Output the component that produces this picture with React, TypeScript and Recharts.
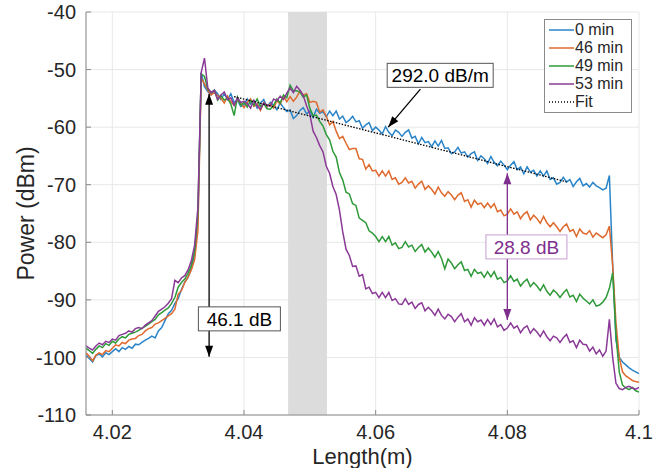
import {
  LineChart,
  Line,
  XAxis,
  YAxis,
  CartesianGrid,
  ReferenceArea,
  ReferenceLine,
  ReferenceDot,
  Legend,
  Label,
} from 'recharts'

// sample positions along the fibre (m)
const LENGTH_M = [
  4.016, 4.0165, 4.017, 4.0175, 4.018, 4.0185, 4.019, 4.0195,
  4.02, 4.0205, 4.021, 4.0215, 4.022, 4.0225, 4.023, 4.0235,
  4.024, 4.0245, 4.025, 4.0255, 4.026, 4.0265, 4.027, 4.0275,
  4.028, 4.0285, 4.029, 4.0295, 4.03, 4.0305, 4.031, 4.0315,
  4.032, 4.0325, 4.033, 4.0335, 4.034, 4.0345, 4.035, 4.0355,
  4.036, 4.0365, 4.037, 4.0375, 4.038, 4.0385, 4.039, 4.0395,
  4.04, 4.0405, 4.041, 4.0415, 4.042, 4.0425, 4.043, 4.0435,
  4.044, 4.0445, 4.045, 4.0455, 4.046, 4.0465, 4.047, 4.0475,
  4.048, 4.0485, 4.049, 4.0495, 4.05, 4.0505, 4.051, 4.0515,
  4.052, 4.0525, 4.053, 4.0535, 4.054, 4.0545, 4.055, 4.0555,
  4.056, 4.0565, 4.057, 4.0575, 4.058, 4.0585, 4.059, 4.0595,
  4.06, 4.0605, 4.061, 4.0615, 4.062, 4.0625, 4.063, 4.0635,
  4.064, 4.0645, 4.065, 4.0655, 4.066, 4.0665, 4.067, 4.0675,
  4.068, 4.0685, 4.069, 4.0695, 4.07, 4.0705, 4.071, 4.0715,
  4.072, 4.0725, 4.073, 4.0735, 4.074, 4.0745, 4.075, 4.0755,
  4.076, 4.0765, 4.077, 4.0775, 4.078, 4.0785, 4.079, 4.0795,
  4.08, 4.0805, 4.081, 4.0815, 4.082, 4.0825, 4.083, 4.0835,
  4.084, 4.0845, 4.085, 4.0855, 4.086, 4.0865, 4.087, 4.0875,
  4.088, 4.0885, 4.089, 4.0895, 4.09, 4.0905, 4.091, 4.0915,
  4.092, 4.0925, 4.093, 4.0935, 4.094, 4.0945, 4.095, 4.0955,
  4.096, 4.0965, 4.097, 4.0975, 4.098, 4.0985, 4.099, 4.0995,
  4.1,
]

// power (dBm) after 0 min
const MIN_0 = [
  -99.6, -100.2, -100.8, -99.7, -99.4, -99.9, -99.2, -99.5,
  -99.0, -98.5, -99.0, -98.3, -98.6, -98.1, -98.4, -97.7,
  -97.8, -97.4, -97.0, -96.7, -96.3, -96.6, -95.4, -94.8,
  -93.6, -92.4, -91.8, -90.6, -89.8, -88.2, -86.9, -86.1,
  -84.6, -82.0, -76.0, -50.5, -53.0, -53.8, -54.4, -53.6,
  -54.2, -55.2, -54.2, -55.2, -54.2, -55.7, -55.3, -56.4,
  -56.1, -55.1, -56.0, -55.5, -56.7, -55.8, -55.2, -56.5,
  -55.7, -56.2, -57.0, -55.8, -56.6, -57.3, -57.0, -58.5,
  -58.0, -57.1, -56.6, -57.7, -57.2, -58.3, -56.9, -57.6,
  -57.3, -58.2, -57.2, -58.0, -57.2, -58.6, -58.1, -59.2,
  -58.8, -58.1, -59.1, -58.9, -60.2, -59.6, -59.2, -60.6,
  -60.0, -60.5, -61.2, -59.9, -60.9, -61.5, -60.5, -60.9,
  -61.6, -60.9, -60.5, -61.9, -61.6, -62.9, -61.8, -62.7,
  -62.5, -63.4, -62.4, -63.3, -62.3, -63.7, -63.6, -64.6,
  -64.3, -63.5, -64.5, -64.3, -65.2, -64.6, -64.3, -65.8,
  -65.0, -65.5, -66.3, -65.1, -66.1, -66.7, -65.9, -66.6,
  -67.4, -66.6, -66.0, -67.4, -66.9, -68.1, -66.9, -67.8,
  -67.5, -68.5, -67.6, -68.5, -67.6, -69.1, -68.8, -69.9,
  -69.6, -68.7, -69.5, -69.1, -70.3, -69.5, -68.9, -70.2,
  -69.8, -70.4, -69.6, -70.2, -70.5, -70.9, -70.6, -68.4,
  -84.0, -97.0, -100.0, -100.8, -101.3, -101.8, -102.2, -102.5,
  -102.8,
]

// 46 min
const MIN_46 = [
  -99.2, -99.8, -100.6, -99.6, -99.2, -99.5, -98.8, -99.0,
  -98.4, -97.8, -98.0, -97.4, -97.6, -97.0, -96.8, -96.7,
  -96.2, -96.0, -95.4, -95.0, -94.8, -94.2, -94.0, -93.6,
  -93.2, -92.8, -92.4, -91.6, -89.0, -88.4, -87.0, -86.0,
  -84.8, -83.0, -78.0, -51.5, -52.5, -53.6, -54.4, -54.0,
  -54.5, -55.0, -55.8, -54.6, -55.6, -56.2, -55.3, -55.8,
  -56.6, -55.7, -55.1, -56.4, -56.0, -57.1, -55.7, -56.4,
  -56.0, -56.7, -55.4, -56.0, -54.6, -55.6, -54.7, -55.5,
  -54.8, -53.7, -54.4, -54.2, -55.7, -55.5, -55.7, -57.4,
  -57.0, -58.1, -59.6, -59.0, -60.7, -62.0, -61.6, -62.8,
  -63.9, -63.7, -63.7, -65.5, -65.6, -67.3, -66.5, -67.6,
  -67.5, -68.5, -67.6, -68.5, -67.6, -69.1, -68.8, -69.9,
  -69.6, -68.8, -69.7, -69.4, -70.6, -69.9, -69.4, -70.8,
  -70.2, -70.8, -71.6, -70.4, -71.4, -72.0, -71.2, -71.8,
  -72.6, -71.8, -71.4, -72.9, -72.6, -73.9, -72.7, -73.4,
  -73.2, -74.0, -73.2, -74.0, -73.3, -74.7, -74.4, -75.4,
  -75.1, -74.2, -75.1, -74.7, -75.9, -75.1, -74.7, -76.1,
  -75.3, -75.9, -76.7, -75.5, -76.6, -77.3, -76.6, -77.3,
  -78.1, -77.3, -76.8, -78.1, -77.8, -79.0, -77.7, -78.4,
  -78.6, -78.0, -79.1, -78.4, -78.8, -79.2, -78.7, -77.2,
  -84.0, -94.0, -100.0, -102.5, -103.2, -103.6, -104.0, -104.2,
  -104.3,
]

// 49 min
const MIN_49 = [
  -98.4, -98.8, -99.3, -98.6, -98.0, -98.3, -97.6, -97.9,
  -97.2, -97.5, -96.8, -96.4, -96.6, -96.0, -95.8, -95.6,
  -95.3, -94.9, -94.6, -94.2, -93.8, -93.4, -92.6, -92.2,
  -91.8, -91.4, -90.6, -89.6, -87.8, -87.0, -86.4, -85.4,
  -84.0, -81.5, -75.0, -50.8, -51.2, -53.4, -54.0, -53.6,
  -55.3, -54.5, -55.3, -55.0, -56.0, -58.0, -54.8, -56.2,
  -55.7, -56.5, -55.4, -56.2, -55.1, -56.4, -55.9, -56.8,
  -56.9, -56.2, -55.1, -55.8, -54.4, -54.9, -52.7, -53.7,
  -53.7, -53.9, -54.8, -54.4, -56.7, -58.0, -57.9, -59.0,
  -59.8, -61.3, -62.2, -64.2, -65.2, -67.9, -69.2, -71.3,
  -71.6, -73.3, -73.6, -75.8, -76.2, -76.6, -78.0, -78.4,
  -79.0, -79.9, -79.0, -79.9, -79.0, -80.5, -80.1, -81.1,
  -80.9, -79.9, -80.8, -80.5, -81.6, -80.9, -80.4, -81.7,
  -81.0, -81.7, -82.6, -81.6, -82.8, -84.6, -82.9, -83.6,
  -84.6, -83.9, -83.4, -84.9, -84.7, -85.9, -84.7, -85.4,
  -85.2, -86.1, -85.1, -86.0, -85.1, -86.4, -86.1, -87.0,
  -86.7, -85.8, -86.8, -86.4, -87.6, -86.9, -86.4, -87.7,
  -87.0, -87.6, -88.4, -87.4, -88.5, -89.2, -88.3, -88.8,
  -89.6, -88.8, -88.2, -89.5, -89.2, -90.3, -89.0, -89.7,
  -90.2, -90.7, -90.0, -91.1, -90.9, -90.4, -89.6, -88.0,
  -85.3, -96.0, -102.5, -104.8, -105.3, -105.6, -105.2, -105.8,
  -106.0,
]

// 53 min
const MIN_53 = [
  -98.0, -98.4, -98.7, -98.0, -97.5, -97.8, -97.2, -97.4,
  -96.8, -97.0, -96.2, -96.0, -95.8, -95.4, -95.6, -95.0,
  -94.8, -95.0, -94.4, -94.0, -93.6, -92.8, -92.0, -91.6,
  -91.2, -90.6, -89.8, -86.6, -87.0, -86.2, -85.8, -84.8,
  -83.2, -80.5, -74.0, -50.5, -48.0, -53.2, -54.0, -53.6,
  -55.2, -54.4, -53.9, -55.2, -54.9, -56.2, -54.9, -55.7,
  -55.5, -55.9, -56.7, -55.3, -56.3, -56.9, -55.8, -56.2,
  -56.3, -55.1, -55.4, -54.6, -55.2, -54.1, -53.2, -54.0,
  -52.9, -53.6, -54.5, -56.3, -57.8, -60.7, -61.8, -63.2,
  -64.3, -66.8, -68.0, -70.3, -71.7, -74.4, -78.2, -81.2,
  -82.3, -84.2, -84.1, -85.9, -85.6, -88.1, -87.8, -88.9,
  -88.7, -89.6, -88.7, -89.6, -88.7, -90.1, -89.8, -90.7,
  -90.8, -89.8, -90.8, -90.4, -91.5, -90.8, -90.5, -91.9,
  -91.3, -91.9, -92.7, -91.6, -92.7, -93.3, -92.5, -92.9,
  -93.8, -93.0, -92.4, -93.8, -93.3, -94.4, -93.1, -93.8,
  -93.5, -94.4, -93.4, -94.3, -93.3, -94.7, -94.3, -95.3,
  -94.9, -94.0, -94.9, -94.5, -95.7, -94.9, -94.5, -95.8,
  -95.0, -95.6, -96.4, -95.4, -96.4, -97.1, -96.3, -96.6,
  -97.4, -96.6, -96.0, -97.4, -97.1, -98.3, -97.0, -97.7,
  -97.8, -98.9, -98.2, -99.4, -98.7, -99.8, -98.9, -93.4,
  -100.0, -104.5, -105.4, -105.6, -105.2, -105.0, -105.3, -105.5,
  -105.2,
]

// linear fit end points (292.0 dB/m)
const FIT_LENGTH = [4.0385, 4.089]
const FIT_POWER = [-54.7, -69.5]

const SERIES_NAMES = ['0 min', '46 min', '49 min', '53 min', 'Fit']
const X_TICKS = [4.02, 4.04, 4.06, 4.08, 4.1]
const Y_TICKS = [-110, -100, -90, -80, -70, -60, -50, -40]

const BAND = [4.0467, 4.0526]

const COLORS = ['#2a84c8', '#df6a2e', '#2f9a3a', '#8a3a96', '#000000']
const FRAME = '#8a8a8a'
const GRID = '#e8e8e8'
const TEXT = '#262626'
const FONT = '"Liberation Sans", Arial, Helvetica, sans-serif'

const rows = LENGTH_M.map((x, i) => {
  const f = FIT_LENGTH.indexOf(x)
  return {
    x,
    min0: MIN_0[i],
    min46: MIN_46[i],
    min49: MIN_49[i],
    min53: MIN_53[i],
    fit: f >= 0 ? FIT_POWER[f] : null,
  }
})

const YTick = ({ x, y, payload }: any) => (
  <g>
    <line x1={x + 10} x2={x + 15} y1={y} y2={y} stroke={FRAME} />
    <text x={x} y={y} dy="0.355em" textAnchor="end" fill={TEXT} fontSize={20} fontFamily={FONT}>
      {payload.value}
    </text>
  </g>
)

const XTick = ({ x, y, payload }: any) => (
  <g>
    <line x1={x} x2={x} y1={y - 10} y2={y - 15} stroke={FRAME} />
    <text x={x} y={y} dy="0.71em" textAnchor="middle" fill={TEXT} fontSize={20} fontFamily={FONT}>
      {String(payload.value)}
    </text>
  </g>
)

const arrowHead = (tx: number, ty: number, fx: number, fy: number, color: string) => {
  const a = Math.atan2(ty - fy, tx - fx)
  const bx = tx - 11 * Math.cos(a)
  const by = ty - 11 * Math.sin(a)
  const s = 4 * Math.sin(a)
  const c = 4 * Math.cos(a)
  return <polygon points={`${tx},${ty} ${bx + s},${by - c} ${bx - s},${by + c}`} fill={color} />
}

const arrow = (color: string, both: boolean) => (props: any) => {
  const { x1, y1, x2, y2 } = props
  return (
    <g>
      <line x1={x1} y1={y1} x2={x2} y2={y2} stroke={color} strokeWidth={1.3} />
      {arrowHead(x2, y2, x1, y1, color)}
      {both && arrowHead(x1, y1, x2, y2, color)}
    </g>
  )
}

const textBox = (text: string, color: string, border: string, w: number) => (props: any) => {
  const { cx, cy } = props
  return (
    <g>
      <rect x={cx - w / 2} y={cy - 12} width={w} height={24} fill="#fff" stroke={border} />
      <text x={cx} y={cy} dy="0.355em" textAnchor="middle" fill={color} fontSize={19} fontFamily={FONT}>
        {text}
      </text>
    </g>
  )
}

const renderLegend = () => (
  <div
    style={{
      border: `1px solid ${FRAME}`,
      background: '#fff',
      padding: '1px 8px 1px 3px',
      fontFamily: FONT,
      fontSize: 16,
      lineHeight: '18px',
      color: TEXT,
    }}
  >
    {SERIES_NAMES.map((name, i) => (
      <div key={name} style={{ display: 'flex', alignItems: 'center', height: 18 }}>
        <svg width={27} height={18}>
          <line
            x1={1}
            y1={9}
            x2={26}
            y2={9}
            stroke={COLORS[i]}
            strokeWidth={1.5}
            strokeDasharray={i === 4 ? '1 2' : undefined}
          />
        </svg>
        <span>{name}</span>
      </div>
    ))}
  </div>
)

export default function App() {
  return (
    <div style={{ position: 'absolute', left: 0, top: 0, width: 670, height: 468, background: '#fff' }}>
      <LineChart width={670} height={468} data={rows} margin={{ top: 12, right: 31, bottom: 0, left: 0 }}>
        <CartesianGrid stroke={GRID} />
        <ReferenceArea x1={BAND[0]} x2={BAND[1]} y1={-110} y2={-40} fill="#dcdcdc" fillOpacity={1} stroke="none" />
        <XAxis
          dataKey="x"
          type="number"
          domain={[4.016, 4.1]}
          ticks={X_TICKS}
          allowDataOverflow
          height={53}
          tickSize={0}
          tickMargin={10}
          tick={<XTick />}
          axisLine={{ stroke: FRAME }}
        >
          <Label
            content={({ viewBox }: any) => (
              <text
                x={viewBox.x + viewBox.width / 2}
                y={viewBox.y + 49}
                textAnchor="middle"
                fill={TEXT}
                fontSize={22}
                fontFamily={FONT}
              >
                Length(m)
              </text>
            )}
          />
        </XAxis>
        <XAxis
          xAxisId="top"
          orientation="top"
          type="number"
          domain={[4.016, 4.1]}
          ticks={X_TICKS}
          allowDataOverflow
          height={0}
          mirror
          tick={false}
          tickSize={5}
          axisLine={{ stroke: FRAME }}
          tickLine={{ stroke: FRAME }}
        />
        <YAxis
          type="number"
          domain={[-110, -40]}
          ticks={Y_TICKS}
          allowDataOverflow
          width={86}
          tickSize={0}
          tickMargin={10}
          tick={<YTick />}
          axisLine={{ stroke: FRAME }}
        >
          <Label
            content={({ viewBox }: any) => {
              const cx = 26
              const cy = viewBox.y + viewBox.height / 2
              return (
                <text
                  x={cx}
                  y={cy}
                  dy="0.355em"
                  transform={`rotate(-90 ${cx} ${cy})`}
                  textAnchor="middle"
                  fill={TEXT}
                  fontSize={23}
                  fontFamily={FONT}
                >
                  Power (dBm)
                </text>
              )
            }}
          />
        </YAxis>
        <YAxis
          yAxisId="right"
          orientation="right"
          type="number"
          domain={[-110, -40]}
          ticks={Y_TICKS}
          allowDataOverflow
          width={0}
          mirror
          tick={false}
          tickSize={5}
          axisLine={{ stroke: FRAME }}
          tickLine={{ stroke: FRAME }}
        />
        <Line dataKey="min0" name={SERIES_NAMES[0]} stroke={COLORS[0]} strokeWidth={1.5} dot={false} isAnimationActive={false} />
        <Line dataKey="min46" name={SERIES_NAMES[1]} stroke={COLORS[1]} strokeWidth={1.5} dot={false} isAnimationActive={false} />
        <Line dataKey="min49" name={SERIES_NAMES[2]} stroke={COLORS[2]} strokeWidth={1.5} dot={false} isAnimationActive={false} />
        <Line dataKey="min53" name={SERIES_NAMES[3]} stroke={COLORS[3]} strokeWidth={1.5} dot={false} isAnimationActive={false} />
        <Line
          dataKey="fit"
          name={SERIES_NAMES[4]}
          stroke={COLORS[4]}
          strokeWidth={1.3}
          strokeDasharray="1.5 1.5"
          connectNulls
          dot={false}
          isAnimationActive={false}
        />
        <ReferenceLine
          segment={[{ x: 4.0347, y: -54.2 }, { x: 4.0347, y: -99.9 }]}
          shape={arrow('#000', true)}
        />
        <ReferenceLine
          segment={[{ x: 4.0668, y: -53.4 }, { x: 4.0619, y: -60.0 }]}
          shape={arrow('#000', false)}
        />
        <ReferenceLine
          segment={[{ x: 4.08, y: -68.0 }, { x: 4.08, y: -93.5 }]}
          shape={arrow('#7e2f8e', true)}
        />
        <ReferenceDot x={4.0393} y={-93.3} r={1} shape={textBox('46.1 dB', '#000', '#555', 82)} />
        <ReferenceDot x={4.0698} y={-51.0} r={1} shape={textBox('292.0 dB/m', '#000', '#555', 106)} />
        <ReferenceDot x={4.0829} y={-80.8} r={1} shape={textBox('28.8 dB', '#7e2f8e', '#c79fd0', 81)} />
        <Legend
          layout="horizontal"
          verticalAlign="middle"
          align="center"
          content={renderLegend}
          wrapperStyle={{ top: 19, left: 544, width: 'auto' }}
        />
      </LineChart>
    </div>
  )
}
